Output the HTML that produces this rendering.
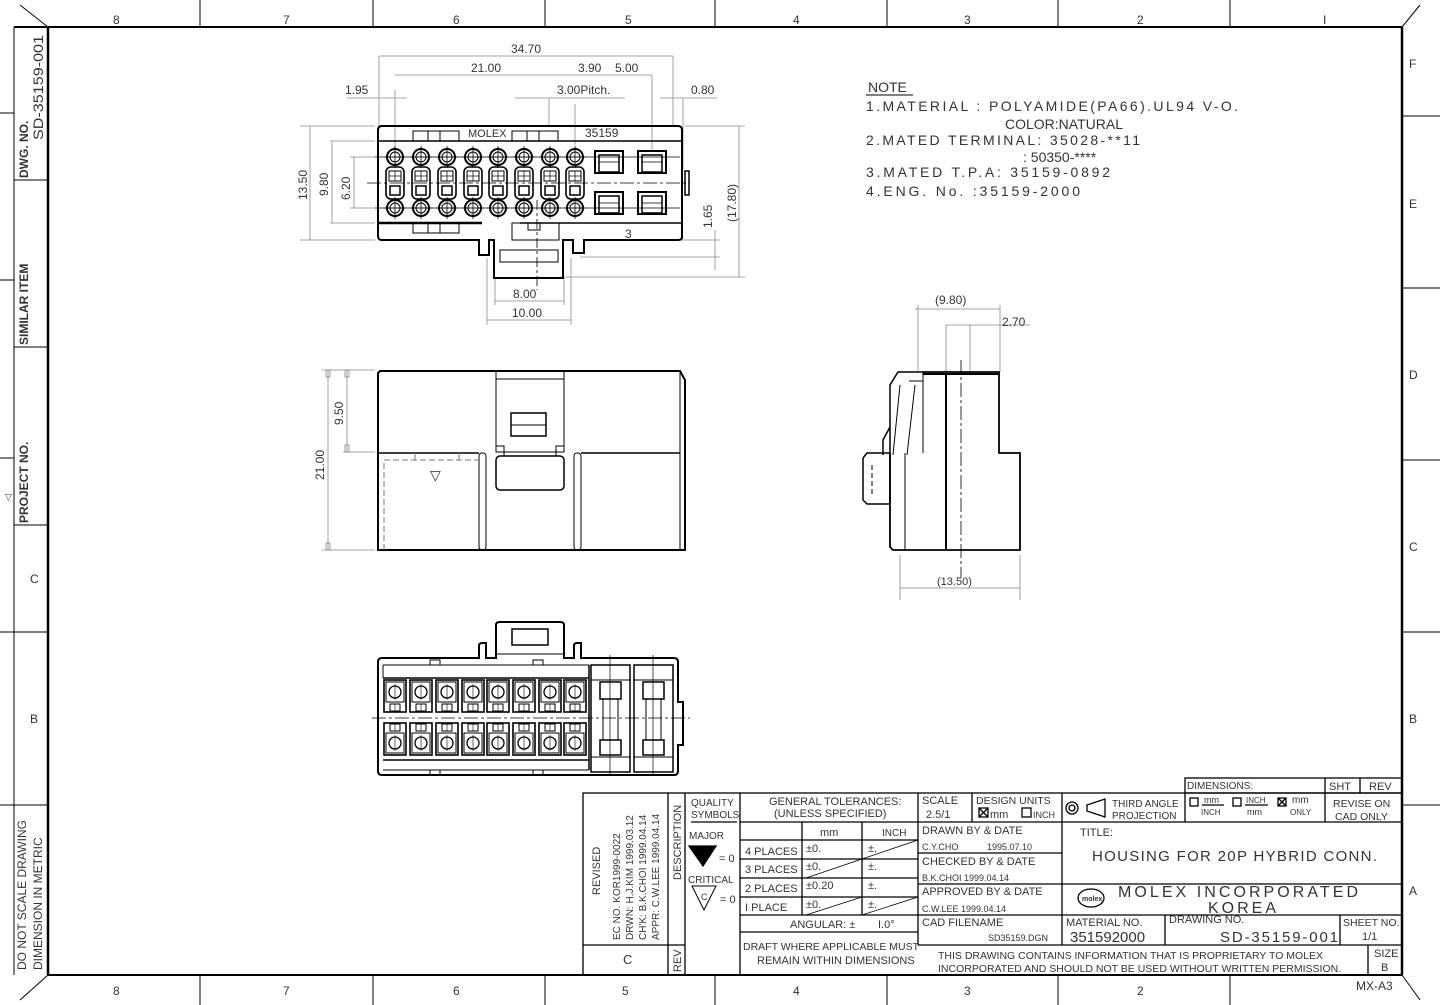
<!DOCTYPE html>
<html><head><meta charset="utf-8"><style>
html,body{margin:0;padding:0;background:#fff}
svg{display:block}
text{font-family:"Liberation Sans",sans-serif;fill:#333}
.t{font-size:12px}
</style></head><body>
<svg width="1440" height="1005" viewBox="0 0 1440 1005" xmlns="http://www.w3.org/2000/svg">
<defs>
<g id="cp"><circle r="8" fill="none" stroke="#000" stroke-width="2"/><circle r="5" fill="none" stroke="#000" stroke-width="1"/><line x1="-11" y1="0" x2="11" y2="0" stroke="#000" stroke-width="0.8"/><line x1="0" y1="-11" x2="0" y2="11" stroke="#000" stroke-width="0.8"/></g>
<g id="rp"><rect x="-9" y="-16" width="18" height="32" rx="5" fill="none" stroke="#000" stroke-width="1.6"/><rect x="-6" y="-12" width="12" height="10" fill="none" stroke="#000"/><rect x="-5" y="3" width="10" height="9" fill="none" stroke="#000" stroke-width="1.5"/><line x1="0" y1="-12" x2="0" y2="-2" stroke="#000" stroke-width="0.7"/><line x1="-6" y1="-7" x2="6" y2="-7" stroke="#000" stroke-width="0.7"/></g>
<g id="bt"><rect x="-14" y="-11" width="28" height="22" fill="none" stroke="#000" stroke-width="2"/><rect x="-10" y="-7" width="20" height="17" fill="none" stroke="#000" stroke-width="1.5"/><line x1="-10" y1="0" x2="10" y2="0" stroke="#000" stroke-width="0.8"/></g>
<g id="bp"><rect x="-11" y="-16" width="22" height="32" fill="none" stroke="#000" stroke-width="1.6"/><rect x="-9" y="-14" width="18" height="20" fill="none" stroke="#000"/><circle cx="0" cy="-4" r="6" fill="none" stroke="#000" stroke-width="1.3"/><line x1="0" y1="-12" x2="0" y2="4" stroke="#000" stroke-width="0.6"/><rect x="-5" y="8" width="10" height="7" fill="none" stroke="#000"/><line x1="0" y1="8" x2="0" y2="15" stroke="#000" stroke-width="0.6"/></g>
<g id="bp2"><rect x="-11" y="-16" width="22" height="32" fill="none" stroke="#000" stroke-width="1.6"/><rect x="-9" y="-6" width="18" height="20" fill="none" stroke="#000"/><circle cx="0" cy="4" r="6" fill="none" stroke="#000" stroke-width="1.3"/><line x1="0" y1="-4" x2="0" y2="12" stroke="#000" stroke-width="0.6"/><rect x="-5" y="-15" width="10" height="7" fill="none" stroke="#000"/><line x1="0" y1="-15" x2="0" y2="-8" stroke="#000" stroke-width="0.6"/></g>
</defs>

<!-- FRAME -->
<g stroke="#000" fill="none">
<line x1="14" y1="27" x2="1402" y2="27" stroke-width="2"/>
<line x1="48" y1="27" x2="48" y2="975" stroke-width="2.5"/>
<line x1="1402" y1="27" x2="1402" y2="975" stroke-width="2.5"/>
<line x1="48" y1="975" x2="1402" y2="975" stroke-width="2"/>
<line x1="14" y1="27" x2="14" y2="975" stroke-width="1"/>
<line x1="20" y1="5" x2="48" y2="27"/><line x1="1402" y1="27" x2="1420" y2="5"/>
<line x1="20" y1="1000" x2="48" y2="975"/><line x1="1402" y1="975" x2="1420" y2="1000"/>
<g stroke-width="1">
<line x1="200" y1="0" x2="200" y2="27"/><line x1="373" y1="0" x2="373" y2="27"/><line x1="545" y1="0" x2="545" y2="27"/><line x1="715" y1="0" x2="715" y2="27"/><line x1="887" y1="0" x2="887" y2="27"/><line x1="1058" y1="0" x2="1058" y2="27"/><line x1="1230" y1="0" x2="1230" y2="27"/>
<line x1="200" y1="975" x2="200" y2="1005"/><line x1="373" y1="975" x2="373" y2="1005"/><line x1="545" y1="975" x2="545" y2="1005"/><line x1="715" y1="975" x2="715" y2="1005"/><line x1="887" y1="975" x2="887" y2="1005"/><line x1="1058" y1="975" x2="1058" y2="1005"/><line x1="1230" y1="975" x2="1230" y2="1005"/>
<line x1="1402" y1="116" x2="1440" y2="116"/><line x1="1402" y1="288" x2="1440" y2="288"/><line x1="1402" y1="460" x2="1440" y2="460"/><line x1="1402" y1="632" x2="1440" y2="632"/><line x1="1402" y1="805" x2="1440" y2="805"/>
<line x1="0" y1="113" x2="14" y2="113"/><line x1="0" y1="280" x2="14" y2="280"/><line x1="0" y1="458" x2="14" y2="458"/><line x1="0" y1="632" x2="48" y2="632"/><line x1="0" y1="805" x2="48" y2="805"/>
<line x1="14" y1="180" x2="48" y2="180"/><line x1="14" y1="347" x2="48" y2="347"/><line x1="14" y1="525" x2="48" y2="525"/>
</g></g>
<g class="t" font-size="12">
<text x="113" y="24">8</text><text x="283" y="24">7</text><text x="453" y="24">6</text><text x="625" y="24">5</text><text x="793" y="24">4</text><text x="964" y="24">3</text><text x="1137" y="24">2</text><text x="1323" y="24">I</text>
<text x="113" y="995">8</text><text x="283" y="995">7</text><text x="453" y="995">6</text><text x="622" y="995">5</text><text x="793" y="995">4</text><text x="964" y="995">3</text><text x="1137" y="995">2</text><text x="1356" y="990">MX-A3</text>
<text x="1409" y="68">F</text><text x="1409" y="208">E</text><text x="1409" y="379">D</text><text x="1409" y="551">C</text><text x="1409" y="723">B</text><text x="1409" y="895">A</text>
<text x="30" y="583">C</text><text x="30" y="723">B</text>
</g>
<g font-size="12">
<text transform="translate(28,178) rotate(-90)" font-weight="bold" fill="#000">DWG. NO.</text>
<text transform="translate(43,140) rotate(-90)" fill="#555" font-size="14" textLength="105" lengthAdjust="spacingAndGlyphs">SD-35159-001</text>
<text transform="translate(28,345) rotate(-90)" font-weight="bold" fill="#000">SIMILAR ITEM</text>
<text transform="translate(28,523) rotate(-90)" font-weight="bold" fill="#000">PROJECT NO.</text>
<text x="5" y="500" font-size="9" fill="#000">▽</text>
<text transform="translate(26,970) rotate(-90)" fill="#000">DO NOT SCALE DRAWING</text>
<text transform="translate(42,970) rotate(-90)" fill="#000">DIMENSION IN METRIC</text>
</g>

<!-- NOTES -->
<g font-size="14" fill="#444">
<text x="868" y="92">NOTE</text><line x1="866" y1="95" x2="913" y2="95" stroke="#000"/>
<text x="866" y="111" textLength="372" lengthAdjust="spacing">1.MATERIAL : POLYAMIDE(PA66).UL94 V-O.</text>
<text x="1005" y="129">COLOR:NATURAL</text>
<text x="866" y="145" textLength="274" lengthAdjust="spacing">2.MATED TERMINAL: 35028-**11</text>
<text x="1023" y="162">: 50350-****</text>
<text x="866" y="177" textLength="244" lengthAdjust="spacing">3.MATED T.P.A: 35159-0892</text>
<text x="866" y="196" textLength="214" lengthAdjust="spacing">4.ENG. No. :35159-2000</text>
</g>

<!-- TOP VIEW -->
<g stroke="#000" fill="none">
<g stroke="#888" stroke-width="0.8">
<line x1="379" y1="56" x2="673" y2="56"/><line x1="379" y1="56" x2="379" y2="126"/><line x1="673" y1="56" x2="673" y2="126"/>
<line x1="395" y1="75" x2="652" y2="75"/><line x1="652" y1="75" x2="652" y2="150"/>
<line x1="347" y1="98" x2="407" y2="98"/><line x1="395" y1="90" x2="395" y2="150"/>
<line x1="515" y1="98" x2="625" y2="98"/><line x1="549" y1="98" x2="549" y2="126"/><line x1="575" y1="104" x2="575" y2="145"/>
<line x1="660" y1="98" x2="717" y2="98"/><line x1="683" y1="98" x2="683" y2="170"/>
<line x1="300" y1="126" x2="375" y2="126"/><line x1="300" y1="240" x2="375" y2="240"/><line x1="310" y1="126" x2="310" y2="240"/>
<line x1="330" y1="141" x2="375" y2="141"/><line x1="330" y1="223" x2="375" y2="223"/><line x1="332" y1="141" x2="332" y2="223"/>
<line x1="350" y1="157" x2="375" y2="157"/><line x1="350" y1="208" x2="375" y2="208"/><line x1="354" y1="157" x2="354" y2="208"/>
<line x1="685" y1="126" x2="745" y2="126"/><line x1="560" y1="277" x2="745" y2="277"/><line x1="739" y1="126" x2="739" y2="277"/>
<line x1="670" y1="240" x2="720" y2="240"/><line x1="580" y1="257" x2="720" y2="257"/><line x1="715" y1="230" x2="715" y2="270"/>
<line x1="495" y1="278" x2="495" y2="305"/><line x1="564" y1="278" x2="564" y2="305"/><line x1="495" y1="301" x2="564" y2="301"/>
<line x1="487" y1="258" x2="487" y2="325"/><line x1="571" y1="258" x2="571" y2="325"/><line x1="487" y1="320" x2="571" y2="320"/>
</g>
<path d="M382 126 H678 Q682 126 682 130 V237 Q682 240 678 240 H584 V253 H573 V240 H563 V278 H494 V240 H489 V255 H479 V240 H382 Q378 240 378 236 V130 Q378 126 382 126 Z" stroke-width="2"/>
<line x1="378" y1="141" x2="682" y2="141" stroke-width="1.5"/>
<line x1="378" y1="223" x2="482" y2="223" stroke-width="2.5"/><line x1="520" y1="223" x2="682" y2="223" stroke-width="1.5"/>
<rect x="413" y="131" width="46" height="10"/><line x1="428" y1="131" x2="428" y2="141"/><line x1="440" y1="131" x2="440" y2="141"/>
<rect x="512" y="131" width="46" height="10"/><line x1="527" y1="131" x2="527" y2="141"/><line x1="539" y1="131" x2="539" y2="141"/>
<rect x="413" y="223" width="46" height="10"/><line x1="428" y1="223" x2="428" y2="233"/><line x1="440" y1="223" x2="440" y2="233"/>
<rect x="512" y="223" width="47" height="17"/><rect x="528" y="223" width="12" height="7"/>
<rect x="500" y="250" width="58" height="12"/>
<rect x="685" y="171" width="4" height="24" stroke-width="1.5"/>
<g stroke-width="0.8"><line x1="367" y1="183" x2="690" y2="183" stroke-dasharray="14 3 3 3"/><line x1="375" y1="157" x2="680" y2="157"/><line x1="375" y1="208" x2="680" y2="208"/>
<line x1="537" y1="200" x2="537" y2="290" stroke-dasharray="10 3 3 3"/></g>
</g>
<use href="#cp" x="395" y="157"/><use href="#cp" x="421" y="157"/><use href="#cp" x="447" y="157"/><use href="#cp" x="473" y="157"/><use href="#cp" x="498" y="157"/><use href="#cp" x="524" y="157"/><use href="#cp" x="550" y="157"/><use href="#cp" x="575" y="157"/>
<use href="#cp" x="395" y="208"/><use href="#cp" x="421" y="208"/><use href="#cp" x="447" y="208"/><use href="#cp" x="473" y="208"/><use href="#cp" x="498" y="208"/><use href="#cp" x="524" y="208"/><use href="#cp" x="550" y="208"/><use href="#cp" x="575" y="208"/>
<use href="#rp" x="395" y="183"/><use href="#rp" x="421" y="183"/><use href="#rp" x="447" y="183"/><use href="#rp" x="473" y="183"/><use href="#rp" x="498" y="183"/><use href="#rp" x="524" y="183"/><use href="#rp" x="550" y="183"/><use href="#rp" x="575" y="183"/>
<use href="#bt" x="609" y="162"/><use href="#bt" x="609" y="203"/><use href="#bt" x="652" y="162"/><use href="#bt" x="652" y="203"/>
<g font-size="12" fill="#333">
<text x="511" y="53">34.70</text><text x="471" y="72">21.00</text><text x="578" y="72">3.90</text><text x="615" y="72">5.00</text>
<text x="345" y="94">1.95</text><text x="557" y="94">3.00Pitch.</text><text x="691" y="94">0.80</text>
<text x="468" y="137" font-size="11">MOLEX</text><text x="585" y="137">35159</text><text x="625" y="238">3</text>
<text x="513" y="298">8.00</text><text x="512" y="317">10.00</text>
<text transform="translate(307,200) rotate(-90)">13.50</text><text transform="translate(328,196) rotate(-90)">9.80</text><text transform="translate(350,200) rotate(-90)">6.20</text>
<text transform="translate(712,228) rotate(-90)">1.65</text><text transform="translate(736,222) rotate(-90)">(17.80)</text>
</g>

<!-- FRONT VIEW -->
<g stroke="#000" fill="none">
<g stroke="#888" stroke-width="0.8"><line x1="322" y1="370" x2="375" y2="370"/><line x1="322" y1="550" x2="375" y2="550"/><line x1="328" y1="370" x2="328" y2="550"/><line x1="343" y1="452" x2="375" y2="452"/><line x1="347" y1="370" x2="347" y2="452"/>
<rect x="326" y="370" width="4" height="7"/><rect x="326" y="543" width="4" height="7"/><rect x="345" y="370" width="4" height="7"/><rect x="345" y="445" width="4" height="7"/></g>
<path d="M380 371 H680 L685 380 V550 H378 V373 Z" stroke-width="2"/>
<line x1="680" y1="371" x2="680" y2="550"/>
<rect x="496" y="371" width="68" height="81"/><line x1="496" y1="379" x2="564" y2="379"/>
<rect x="511" y="413" width="35" height="23" stroke-width="1.5"/><line x1="511" y1="425" x2="546" y2="425"/>
<line x1="378" y1="453" x2="479" y2="453" stroke-width="1.5"/><line x1="581" y1="453" x2="680" y2="453" stroke-width="1.5"/>
<path d="M496 446 H504 V456 M564 446 H556 V456"/>
<rect x="496" y="456" width="68" height="34" rx="4" stroke-width="1.5"/>
<rect x="479" y="453" width="7" height="97" rx="3"/><rect x="574" y="453" width="7" height="97" rx="3"/>
<path d="M384 550 V460 H478" stroke="#777" stroke-dasharray="6 3"/><line x1="415" y1="453" x2="415" y2="460" stroke="#777"/><line x1="459" y1="453" x2="459" y2="460" stroke="#777"/>
</g>
<text x="430" y="480" font-size="14" fill="#555">▽</text>
<text transform="translate(324,480) rotate(-90)" font-size="12" fill="#333">21.00</text>
<text transform="translate(343,425) rotate(-90)" font-size="12" fill="#333">9.50</text>

<!-- SIDE VIEW -->
<g stroke="#000" fill="none">
<g stroke="#888" stroke-width="0.8"><line x1="918" y1="305" x2="918" y2="372"/><line x1="1000" y1="305" x2="1000" y2="372"/><line x1="915" y1="309" x2="1000" y2="309"/><line x1="946" y1="325" x2="1030" y2="325"/><line x1="946" y1="325" x2="946" y2="372"/><line x1="970" y1="325" x2="970" y2="372"/>
<line x1="900" y1="555" x2="900" y2="600"/><line x1="1020" y1="555" x2="1020" y2="600"/><line x1="900" y1="588" x2="1020" y2="588"/></g>
<path d="M923 372 H999 V453 H1020 V550 H893 L890 547 V453" stroke-width="1.8"/>
<path d="M890 453 V385 L898 372 H923" stroke-width="1.5"/>
<line x1="905" y1="453" x2="905" y2="550"/><line x1="923" y1="372" x2="923" y2="453"/>
<line x1="946" y1="374" x2="946" y2="550" stroke-width="2"/>
<line x1="923" y1="374" x2="999" y2="374" stroke-width="2"/>
<path d="M915 385 L907 455 M900 385 L893 455 M909 381 H923"/>
<path d="M890 427 L883 440 V455 M863 458 L867 453 H890 M863 458 V500 L867 504 H890 V453" stroke-width="1.5"/>
<line x1="872" y1="465" x2="872" y2="495" stroke-dasharray="5 3"/>
<line x1="961" y1="360" x2="961" y2="578" stroke-width="0.8" stroke-dasharray="14 3 3 3"/>
</g>
<text x="935" y="304" font-size="12" fill="#333">(9.80)</text><text x="1002" y="326" font-size="12" fill="#333">2.70</text>
<text x="937" y="585" font-size="11" fill="#333">(13.50)</text>

<!-- BOTTOM VIEW -->
<g stroke="#000" fill="none">
<path d="M382 658 H479 V646 Q479 643 482 643 H486 V658 H496 V625 Q496 622 500 622 H560 Q564 622 564 625 V658 H574 V646 Q574 643 577 643 H581 V658 H674 Q678 658 678 662 V702 H683 V745 H678 V771 Q678 775 674 775 H382 Q378 775 378 771 V662 Q378 658 382 658 Z" stroke-width="2"/>
<rect x="512" y="629" width="36" height="16" stroke-width="1.5"/>
<path d="M496 654 H564 M486 665 H581" />
<line x1="383" y1="665" x2="589" y2="665"/><line x1="383" y1="665" x2="383" y2="678"/><line x1="383" y1="678" x2="589" y2="678" stroke-width="1.5"/>
<line x1="383" y1="760" x2="589" y2="760" stroke-width="1.5"/><line x1="383" y1="770" x2="589" y2="770"/>
<line x1="589" y1="665" x2="589" y2="770" stroke-width="1.5"/>
<rect x="591" y="665" width="39" height="107" stroke-width="1.5"/><rect x="634" y="665" width="39" height="107" stroke-width="1.5"/>
<rect x="600" y="682" width="21" height="17" stroke-width="1.5"/><rect x="643" y="682" width="21" height="17" stroke-width="1.5"/>
<rect x="600" y="740" width="21" height="15" stroke-width="1.5"/><rect x="643" y="740" width="21" height="15" stroke-width="1.5"/>
<rect x="603" y="699" width="15" height="41"/><rect x="646" y="699" width="15" height="41"/>
<line x1="591" y1="680" x2="630" y2="680"/><line x1="634" y1="680" x2="673" y2="680"/><line x1="591" y1="757" x2="630" y2="757"/><line x1="634" y1="757" x2="673" y2="757"/>
<rect x="430" y="770" width="10" height="5"/><rect x="533" y="770" width="10" height="5"/><rect x="430" y="660" width="10" height="5"/><rect x="533" y="660" width="10" height="5"/>
<line x1="372" y1="718" x2="690" y2="718" stroke-width="0.8" stroke-dasharray="14 3 3 3"/>
<line x1="610" y1="655" x2="610" y2="775" stroke-width="0.7"/><line x1="653" y1="655" x2="653" y2="775" stroke-width="0.7"/>
</g>
<use href="#bp" x="395" y="696"/><use href="#bp" x="421" y="696"/><use href="#bp" x="447" y="696"/><use href="#bp" x="473" y="696"/><use href="#bp" x="498" y="696"/><use href="#bp" x="524" y="696"/><use href="#bp" x="550" y="696"/><use href="#bp" x="575" y="696"/>
<use href="#bp2" x="395" y="739"/><use href="#bp2" x="421" y="739"/><use href="#bp2" x="447" y="739"/><use href="#bp2" x="473" y="739"/><use href="#bp2" x="498" y="739"/><use href="#bp2" x="524" y="739"/><use href="#bp2" x="550" y="739"/><use href="#bp2" x="575" y="739"/>

<!-- TITLE BLOCK -->
<g stroke="#000" fill="none" stroke-width="1.3">
<rect x="583" y="793" width="819" height="182"/>
<rect x="1185" y="778" width="217" height="15"/><line x1="1325" y1="778" x2="1325" y2="822"/><line x1="1360" y1="778" x2="1360" y2="793"/>
<line x1="668" y1="793" x2="668" y2="975"/><line x1="685" y1="793" x2="685" y2="975"/><line x1="740" y1="793" x2="740" y2="975"/>
<line x1="583" y1="945" x2="685" y2="945"/>
<line x1="691" y1="822" x2="737" y2="822"/>
<line x1="918" y1="793" x2="918" y2="945"/><line x1="1062" y1="793" x2="1062" y2="945"/><line x1="1185" y1="793" x2="1185" y2="822"/><line x1="972" y1="793" x2="972" y2="822"/>
<line x1="740" y1="822" x2="1402" y2="822"/>
<line x1="740" y1="840" x2="918" y2="840"/><line x1="740" y1="859" x2="918" y2="859"/><line x1="740" y1="878" x2="918" y2="878"/><line x1="740" y1="897" x2="918" y2="897"/><line x1="740" y1="915" x2="1402" y2="915"/><line x1="740" y1="932" x2="918" y2="932"/>
<line x1="802" y1="822" x2="802" y2="915"/><line x1="862" y1="822" x2="862" y2="915"/>
<line x1="918" y1="853" x2="1062" y2="853"/><line x1="918" y1="884" x2="1402" y2="884"/>
<line x1="918" y1="945" x2="1402" y2="945"/><line x1="1165" y1="915" x2="1165" y2="945"/><line x1="1340" y1="915" x2="1340" y2="945"/><line x1="1368" y1="945" x2="1368" y2="975"/>
<g stroke-width="0.8"><line x1="862" y1="859" x2="918" y2="840"/><line x1="806" y1="878" x2="862" y2="859"/><line x1="862" y1="915" x2="918" y2="897"/><line x1="806" y1="915" x2="862" y2="897"/></g>
<circle cx="1072" cy="808" r="6"/><circle cx="1072" cy="808" r="3"/><path d="M1105 799 V817 L1087 811 V805 Z"/>
<rect x="979" y="808" width="9" height="9"/><line x1="979" y1="808" x2="988" y2="817"/><line x1="988" y1="808" x2="979" y2="817"/><rect x="1022" y="808" width="9" height="9"/>
<rect x="1190" y="798" width="8" height="8"/><rect x="1233" y="798" width="8" height="8"/><rect x="1278" y="798" width="8" height="8"/><line x1="1278" y1="798" x2="1286" y2="806"/><line x1="1286" y1="798" x2="1278" y2="806"/>
<line x1="1202" y1="805" x2="1224" y2="805"/><line x1="1245" y1="805" x2="1268" y2="805"/>
<path d="M689 846 H716 L703 866 Z" fill="#000"/>
<path d="M692 886 H716 L704 910 Z" stroke-width="1"/>
<ellipse cx="1091" cy="898" rx="13" ry="9"/>
</g>
<g font-size="11" fill="#222">
<text x="691" y="806" font-size="10">QUALITY</text><text x="691" y="818" font-size="10">SYMBOLS</text>
<text x="769" y="805">GENERAL TOLERANCES:</text><text x="774" y="817">(UNLESS SPECIFIED)</text>
<text x="820" y="836">mm</text><text x="882" y="836" font-size="10">INCH</text>
<text x="745" y="855">4 PLACES</text><text x="745" y="873">3 PLACES</text><text x="745" y="892">2 PLACES</text><text x="745" y="911">I PLACE</text>
<text x="806" y="852">±0.</text><text x="806" y="870">±0.</text><text x="806" y="889">±0.20</text><text x="806" y="908">±0.</text>
<text x="868" y="852">±.</text><text x="868" y="870">±.</text><text x="868" y="889">±.</text><text x="868" y="908">±.</text>
<text x="790" y="928">ANGULAR: ±</text><text x="878" y="928">I.0°</text>
<text x="743" y="950" fill="#555" font-size="10.5">DRAFT WHERE APPLICABLE MUST</text><text x="757" y="964">REMAIN WITHIN DIMENSIONS</text>
<text x="689" y="839" font-size="10">MAJOR</text><text x="719" y="862">= 0</text><text x="688" y="883" font-size="10">CRITICAL</text><text x="701" y="900" font-size="9">C</text><text x="720" y="903">= 0</text>
<text x="922" y="804">SCALE</text><text x="926" y="818" fill="#555">2.5/1</text>
<text x="976" y="804" font-size="10.5">DESIGN UNITS</text><text x="990" y="818">mm</text><text x="1033" y="818" font-size="9">INCH</text>
<text x="1112" y="807" font-size="10">THIRD ANGLE</text><text x="1112" y="819" font-size="10">PROJECTION</text>
<text x="1187" y="789" font-size="10">DIMENSIONS:</text><text x="1329" y="790">SHT</text><text x="1369" y="790">REV</text>
<text x="1204" y="803" font-size="9">mm</text><text x="1201" y="815" font-size="8">INCH</text><text x="1246" y="803" font-size="8">INCH</text><text x="1247" y="815" font-size="9">mm</text><text x="1292" y="803" font-size="10">mm</text><text x="1290" y="815" font-size="8">ONLY</text>
<text x="1333" y="807" font-size="10.5">REVISE ON</text><text x="1335" y="820" font-size="10.5">CAD ONLY</text>
<text x="922" y="834">DRAWN BY &amp; DATE</text><text x="922" y="850" font-size="9" fill="#555">C.Y.CHO</text><text x="987" y="850" font-size="9" fill="#555">1995.07.10</text>
<text x="922" y="865">CHECKED BY &amp; DATE</text><text x="922" y="881" font-size="9" fill="#555">B.K.CHOI    1999.04.14</text>
<text x="922" y="895">APPROVED BY &amp; DATE</text><text x="922" y="912" font-size="9" fill="#555">C.W.LEE    1999.04.14</text>
<text x="922" y="926">CAD FILENAME</text><text x="988" y="941" font-size="9" fill="#555">SD35159.DGN</text>
<text x="1080" y="836">TITLE:</text>
<text x="1092" y="861" font-size="15" fill="#555" textLength="285" lengthAdjust="spacing">HOUSING FOR 20P HYBRID CONN.</text>
<text x="1118" y="897" font-size="16" fill="#111" textLength="240" lengthAdjust="spacing">MOLEX INCORPORATED</text>
<text x="1208" y="913" font-size="16" fill="#111" textLength="68" lengthAdjust="spacing">KOREA</text>
<text x="1082" y="901" font-size="7" font-weight="bold">molex</text>
<text x="1066" y="926">MATERIAL NO.</text><text x="1070" y="942" font-size="15" fill="#555">351592000</text>
<text x="1169" y="923">DRAWING NO.</text><text x="1220" y="942" font-size="15" fill="#555" textLength="118" lengthAdjust="spacing">SD-35159-001</text>
<text x="1343" y="926" font-size="10.5">SHEET NO.</text><text x="1362" y="940" fill="#555">1/1</text>
<text x="938" y="959" font-size="10.5">THIS DRAWING CONTAINS INFORMATION THAT IS PROPRIETARY TO MOLEX</text>
<text x="938" y="972" font-size="10.5">INCORPORATED AND SHOULD NOT BE USED WITHOUT WRITTEN PERMISSION.</text>
<text x="1374" y="957">SIZE</text><text x="1381" y="971" fill="#555">B</text>
<text x="623" y="964" font-size="13">C</text>
<text transform="translate(681,972) rotate(-90)">REV</text>
<text transform="translate(681,880) rotate(-90)">DESCRIPTION</text>
<text transform="translate(600,895) rotate(-90)" fill="#666">REVISED</text>
<text transform="translate(620,940) rotate(-90)" font-size="10">EC NO. KOR1999-0022</text>
<text transform="translate(633,940) rotate(-90)" font-size="10">DRWN: H.J.KIM  1999.03.12</text>
<text transform="translate(646,940) rotate(-90)" font-size="10">CH'K: B.K.CHOI 1999.04.14</text>
<text transform="translate(659,940) rotate(-90)" font-size="10">APPR: C.W.LEE  1999.04.14</text>
</g>
</svg>
</body></html>
